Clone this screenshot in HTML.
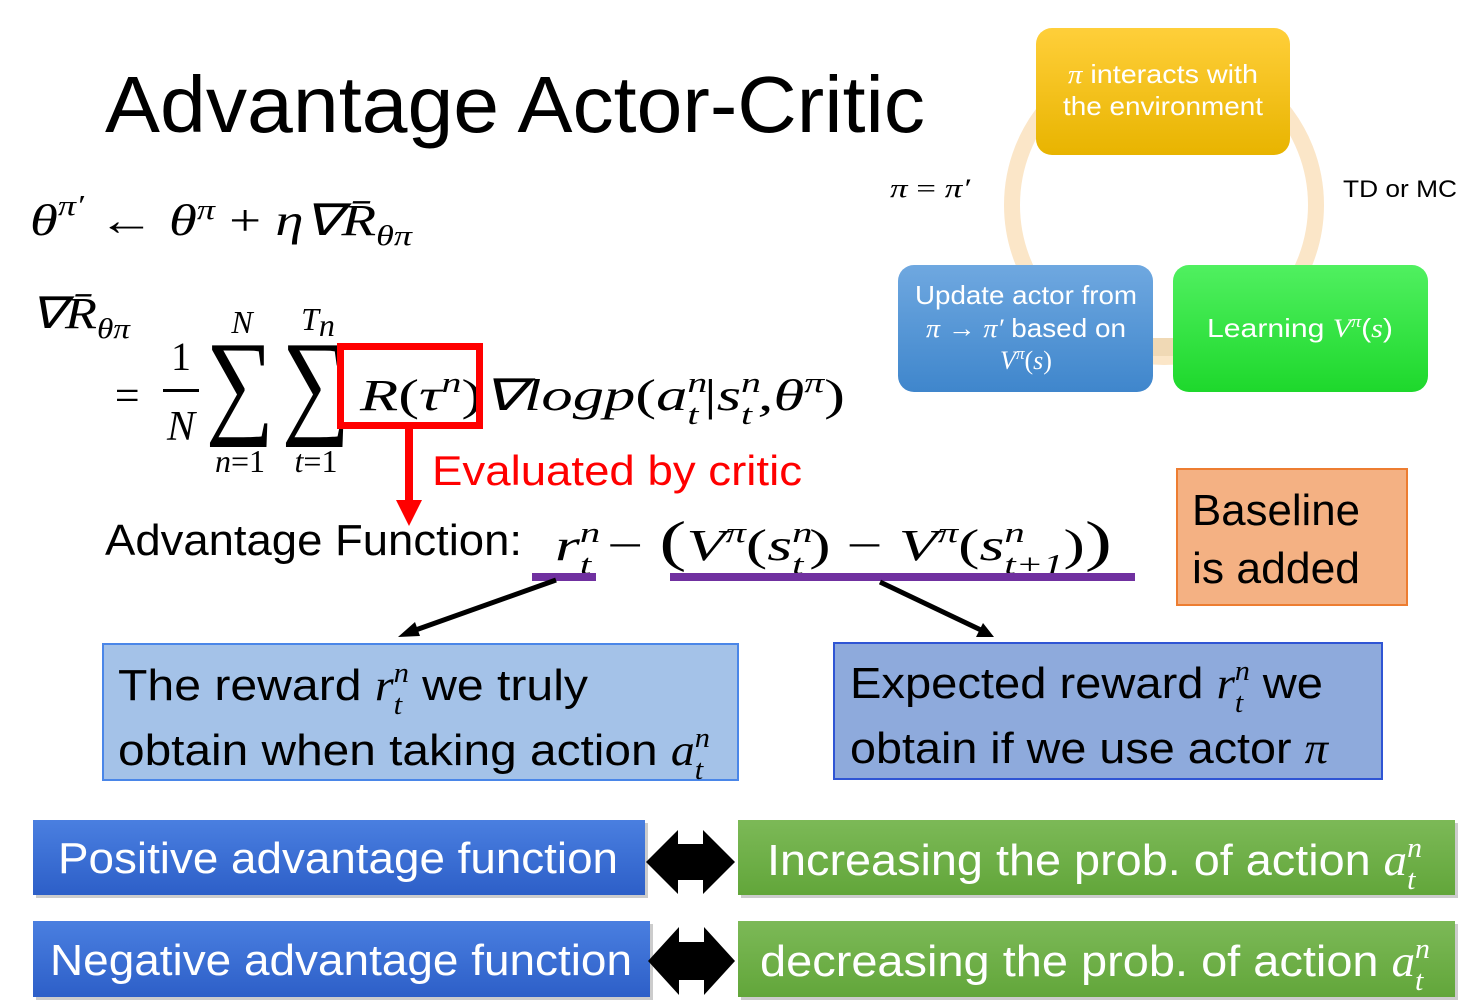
<!DOCTYPE html>
<html><head><meta charset="utf-8"><style>html,body{margin:0;padding:0;background:#fff}svg{display:block}
.s{font-family:"Liberation Sans",sans-serif}.m{font-family:"Liberation Serif",serif;font-style:italic}</style></head>
<body>
<svg width="1470" height="1008" viewBox="0 0 1470 1008" xmlns="http://www.w3.org/2000/svg">
<defs>
<linearGradient id="gy" x1="0" y1="0" x2="0" y2="1"><stop offset="0" stop-color="#ffcf3a"/><stop offset="1" stop-color="#e8b400"/></linearGradient>
<linearGradient id="gb" x1="0" y1="0" x2="0" y2="1"><stop offset="0" stop-color="#6fa8e0"/><stop offset="1" stop-color="#3f86cc"/></linearGradient>
<linearGradient id="gg" x1="0" y1="0" x2="0" y2="1"><stop offset="0" stop-color="#50f060"/><stop offset="1" stop-color="#1ed82c"/></linearGradient>
<linearGradient id="bb" x1="0" y1="0" x2="0" y2="1"><stop offset="0" stop-color="#4a7fe0"/><stop offset="1" stop-color="#2d5fc8"/></linearGradient>
<linearGradient id="bg" x1="0" y1="0" x2="0" y2="1"><stop offset="0" stop-color="#7cb957"/><stop offset="1" stop-color="#62a63a"/></linearGradient>
</defs>

<!-- cycle -->
<circle cx="1164" cy="205" r="152" fill="none" stroke="#fbe6c8" stroke-width="16"/>
<rect x="1150" y="338" width="30" height="18" fill="#f0d9b5"/>
<rect x="1036" y="28" width="254" height="127" rx="16" fill="url(#gy)"/>
<text x="1163" y="83" text-anchor="middle" fill="#fff" font-size="26" class="s" textLength="190" lengthAdjust="spacingAndGlyphs"><tspan class="m">π</tspan> interacts with</text>
<text x="1163" y="115" text-anchor="middle" fill="#fff" font-size="26" class="s" textLength="200" lengthAdjust="spacingAndGlyphs">the environment</text>
<rect x="898" y="265" width="255" height="127" rx="16" fill="url(#gb)"/>
<text x="1026" y="304" text-anchor="middle" fill="#fff" font-size="26" class="s" textLength="222" lengthAdjust="spacingAndGlyphs">Update actor from</text>
<text x="1026" y="337" text-anchor="middle" fill="#fff" font-size="26" class="s" textLength="200" lengthAdjust="spacingAndGlyphs"><tspan class="m">π</tspan> → <tspan class="m">π′</tspan> based on</text>
<text x="1026" y="369" text-anchor="middle" fill="#fff" font-size="26" class="m">V<tspan font-size="17" dy="-10">π</tspan><tspan dy="10" font-style="normal">(</tspan>s<tspan font-style="normal">)</tspan></text>
<rect x="1173" y="265" width="255" height="127" rx="16" fill="url(#gg)"/>
<text x="1300" y="337" text-anchor="middle" fill="#fff" font-size="26" class="s" textLength="186" lengthAdjust="spacingAndGlyphs">Learning <tspan class="m">V</tspan><tspan class="m" font-size="17" dy="-10">π</tspan><tspan dy="10">(</tspan><tspan class="m">s</tspan>)</text>
<text x="890" y="197" font-size="26" class="m" textLength="80" lengthAdjust="spacingAndGlyphs">π <tspan font-style="normal">=</tspan> π′</text>
<text x="1343" y="197" font-size="24" class="s" textLength="114" lengthAdjust="spacingAndGlyphs">TD or MC</text>

<!-- title -->
<text x="105" y="132" font-size="80" class="s" textLength="820" lengthAdjust="spacingAndGlyphs">Advantage Actor-Critic</text>

<!-- formulas -->
<text x="30" y="235" font-size="44" class="m" textLength="382" lengthAdjust="spacingAndGlyphs">θ<tspan font-size="28" dy="-20">π′</tspan><tspan dy="20" font-style="normal"> ← </tspan>θ<tspan font-size="28" dy="-16">π</tspan><tspan dy="16" font-style="normal"> + </tspan>η∇R̄<tspan font-size="28" dy="10">θπ</tspan></text>
<text x="30" y="328" font-size="44" class="m" textLength="100" lengthAdjust="spacingAndGlyphs">∇R̄<tspan font-size="28" dy="10">θπ</tspan></text>
<text x="112" y="410" font-size="44" class="m" font-style="normal">=</text>
<text x="181" y="370" font-size="40" text-anchor="middle" font-family="Liberation Serif,serif">1</text>
<rect x="163" y="389" width="36" height="3" fill="#000"/>
<text x="181" y="440" font-size="42" text-anchor="middle" class="m">N</text>
<text transform="translate(240,422) scale(0.82,1)" font-size="117" text-anchor="middle" font-family="Liberation Serif,serif">∑</text>
<text transform="translate(316,422) scale(0.82,1)" font-size="117" text-anchor="middle" font-family="Liberation Serif,serif">∑</text>
<text x="242" y="333" font-size="32" text-anchor="middle" class="m">N</text>
<text x="318" y="330" font-size="32" text-anchor="middle" class="m">T<tspan dy="6">n</tspan></text>
<text x="240" y="472" font-size="32" text-anchor="middle" class="m">n<tspan font-style="normal">=1</tspan></text>
<text x="316" y="472" font-size="32" text-anchor="middle" class="m">t<tspan font-style="normal">=1</tspan></text>
<text x="360" y="410" font-size="44" class="m" textLength="485" lengthAdjust="spacingAndGlyphs">R<tspan font-style="normal">(</tspan>τ<tspan font-size="28" dy="-18">n</tspan><tspan dy="18" font-style="normal">)</tspan>∇logp<tspan font-style="normal">(</tspan>a<tspan font-size="28" dy="-18">n</tspan><tspan font-size="28" dx="-14" dy="32">t</tspan><tspan dy="-14" dx="4" font-style="normal">|</tspan>s<tspan font-size="28" dy="-18">n</tspan><tspan font-size="28" dx="-14" dy="32">t</tspan><tspan dy="-14" dx="4">,</tspan>θ<tspan font-size="28" dy="-18">π</tspan><tspan dy="18" font-style="normal">)</tspan></text>
<rect x="340.5" y="346.5" width="139" height="79" fill="none" stroke="#f00" stroke-width="7"/>
<rect x="405" y="426" width="8" height="80" fill="#f00"/>
<polygon points="396,500 422,500 409,526" fill="#f00"/>
<text x="432" y="485" font-size="42" fill="#f00" class="s" textLength="370" lengthAdjust="spacingAndGlyphs">Evaluated by critic</text>

<text x="105" y="555" font-size="44" class="s" textLength="417" lengthAdjust="spacingAndGlyphs">Advantage Function:</text>
<text x="555" y="560" font-size="44" class="m" textLength="557" lengthAdjust="spacingAndGlyphs">r<tspan font-size="28" dy="-18">n</tspan><tspan font-size="28" dx="-14" dy="32">t</tspan><tspan dy="-14" font-style="normal"> − </tspan><tspan font-style="normal" font-size="56">(</tspan>V<tspan font-size="28" dy="-18">π</tspan><tspan dy="18" font-style="normal">(</tspan>s<tspan font-size="28" dy="-18">n</tspan><tspan font-size="28" dx="-14" dy="32">t</tspan><tspan dy="-14" dx="4" font-style="normal">) − </tspan>V<tspan font-size="28" dy="-18">π</tspan><tspan dy="18" font-style="normal">(</tspan>s<tspan font-size="28" dy="-18">n</tspan><tspan font-size="28" dx="-14" dy="32">t+1</tspan><tspan dy="-14" font-style="normal">)</tspan><tspan font-style="normal" font-size="56">)</tspan></text>
<rect x="532" y="573" width="64" height="8" fill="#7030a0"/>
<rect x="670" y="573" width="465" height="8" fill="#7030a0"/>
<line x1="556" y1="580" x2="410" y2="632" stroke="#000" stroke-width="5"/>
<polygon points="398,637 415,622 420,636" fill="#000"/>
<line x1="880" y1="582" x2="983" y2="631" stroke="#000" stroke-width="5"/>
<polygon points="994,637 976,637 983,623" fill="#000"/>

<rect x="1177" y="469" width="230" height="136" fill="#f4b183" stroke="#ed7d31" stroke-width="2"/>
<text x="1192" y="525" font-size="44" class="s" textLength="168" lengthAdjust="spacingAndGlyphs">Baseline</text>
<text x="1192" y="583" font-size="44" class="s" textLength="168" lengthAdjust="spacingAndGlyphs">is added</text>

<rect x="103" y="644" width="635" height="136" fill="#a4c2e8" stroke="#4a86e8" stroke-width="2"/>
<text x="118" y="700" font-size="44" class="s" textLength="470" lengthAdjust="spacingAndGlyphs">The reward <tspan class="m">r</tspan><tspan class="m" font-size="28" dy="-18">n</tspan><tspan class="m" font-size="28" dx="-14" dy="32">t</tspan><tspan dy="-14" dx="6"> we truly</tspan></text>
<text x="118" y="765" font-size="44" class="s" textLength="592" lengthAdjust="spacingAndGlyphs">obtain when taking action <tspan class="m">a</tspan><tspan class="m" font-size="28" dy="-18">n</tspan><tspan class="m" font-size="28" dx="-14" dy="32">t</tspan></text>
<rect x="834" y="643" width="548" height="136" fill="#8eaadc" stroke="#2f55d4" stroke-width="2"/>
<text x="850" y="698" font-size="44" class="s" textLength="473" lengthAdjust="spacingAndGlyphs">Expected reward <tspan class="m">r</tspan><tspan class="m" font-size="28" dy="-18">n</tspan><tspan class="m" font-size="28" dx="-14" dy="32">t</tspan><tspan dy="-14" dx="6"> we</tspan></text>
<text x="850" y="763" font-size="44" class="s" textLength="478" lengthAdjust="spacingAndGlyphs">obtain if we use actor <tspan class="m">π</tspan></text>

<rect x="36" y="823" width="612" height="75" fill="#ccc"/>
<rect x="33" y="820" width="612" height="75" fill="url(#bb)"/>
<text x="58" y="873" font-size="44" fill="#fff" class="s" textLength="560" lengthAdjust="spacingAndGlyphs">Positive advantage function</text>
<rect x="741" y="823" width="717" height="75" fill="#ccc"/>
<rect x="738" y="820" width="717" height="75" fill="url(#bg)"/>
<text x="767" y="875" font-size="44" fill="#fff" class="s" textLength="655" lengthAdjust="spacingAndGlyphs">Increasing the prob. of action <tspan class="m">a</tspan><tspan class="m" font-size="28" dy="-18">n</tspan><tspan class="m" font-size="28" dx="-14" dy="32">t</tspan></text>
<rect x="36" y="924" width="617" height="76" fill="#ccc"/>
<rect x="33" y="921" width="617" height="76" fill="url(#bb)"/>
<text x="50" y="975" font-size="44" fill="#fff" class="s" textLength="582" lengthAdjust="spacingAndGlyphs">Negative advantage function</text>
<rect x="741" y="924" width="717" height="76" fill="#ccc"/>
<rect x="738" y="921" width="717" height="76" fill="url(#bg)"/>
<text x="760" y="976" font-size="44" fill="#fff" class="s" textLength="670" lengthAdjust="spacingAndGlyphs">decreasing the prob. of action <tspan class="m">a</tspan><tspan class="m" font-size="28" dy="-18">n</tspan><tspan class="m" font-size="28" dx="-14" dy="32">t</tspan></text>

<polygon points="646,862 678,830 678,844 703,844 703,830 735,862 703,894 703,880 678,880 678,894" fill="#000"/>
<polygon points="648,961 679,927 679,942 704,942 704,927 735,961 704,995 704,980 679,980 679,995" fill="#000"/>
</svg>
</body></html>
